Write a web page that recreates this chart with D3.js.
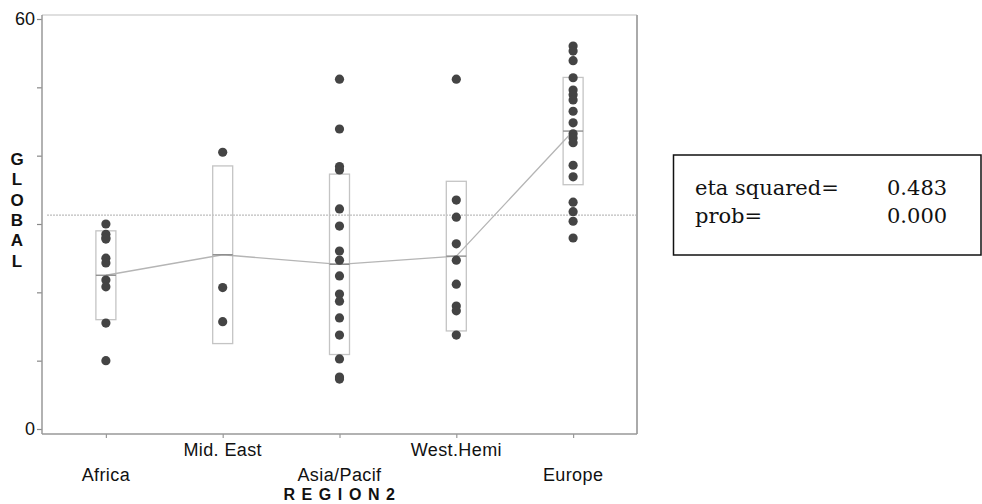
<!DOCTYPE html>
<html>
<head>
<meta charset="utf-8">
<script src="https://cdn.jsdelivr.net/npm/d3@7"></script>
<style>
  html, body { margin: 0; padding: 0; background: #fff; }
  svg { display: block; }
</style>
</head>
<body>
<svg id="chart" width="982" height="504"></svg>
<script>
// ---------------- DATA ----------------
const categories = ["Africa", "Mid. East", "Asia/Pacif", "West.Hemi", "Europe"];
const africa    = [30.0, 28.5, 28.0, 27.8, 25.0, 24.3, 21.8, 20.8, 15.5, 10.0];
const midEast   = [40.5, 20.7, 15.7];
const asiaPacif = [51.2, 43.9, 38.4, 37.9, 32.2, 29.7, 26.05, 24.7, 22.4, 19.75, 18.7, 16.25, 13.75, 10.25, 7.6, 7.3];
const westHemi  = [51.2, 33.5, 31.0, 27.1, 24.7, 21.2, 18.0, 17.3, 13.75];
const europe    = [56.05, 55.3, 53.9, 51.4, 49.6, 48.9, 48.15, 46.5, 44.8, 43.2, 42.6, 41.9, 38.6, 36.9, 33.2, 31.8, 30.4, 27.95];
const groupMeans = [22.5, 25.5, 24.1, 25.3, 43.6];
const groupSD    = [6.5, 13.0, 13.2, 10.95, 7.85];
const grandMean  = 31.3;
const yTicks     = [0, 10, 20, 30, 40, 50, 60];
const yTickLabels = ["0", "", "", "", "", "", "60"];
const statLabels = ["eta squared=", "prob="];
const statValues = ["0.483", "0.000"];
const yTitle = "GLOBAL";
const xTitle = "REGION2";

const groups = [africa, midEast, asiaPacif, westHemi, europe];

// ---------------- LAYOUT ----------------
const svg = d3.select("#chart");
const frame = { left: 42, right: 637, top: 15, bottom: 434 };

const x = d3.scalePoint().domain(categories).range([frame.left, frame.right]).padding(0.547);
const y = d3.scaleLinear().domain([0, 60]).range([429, 19]);

// frame top and right
svg.append("line").attr("x1", frame.left).attr("x2", frame.right).attr("y1", frame.top).attr("y2", frame.top)
  .attr("stroke", "#d4d4d4").attr("stroke-width", 1.5);
svg.append("line").attr("x1", frame.right).attr("x2", frame.right).attr("y1", frame.top).attr("y2", frame.bottom)
  .attr("stroke", "#aaa").attr("stroke-width", 2);

// grand mean dotted line
svg.append("line").attr("x1", frame.left + 5).attr("x2", frame.right - 1)
  .attr("y1", y(grandMean)).attr("y2", y(grandMean))
  .attr("stroke", "#bdbdbd").attr("stroke-width", 1.3).attr("stroke-dasharray", "2,1");

// Y axis
const yAxis = d3.axisLeft(y).tickValues(yTicks).tickSize(5).tickPadding(2)
  .tickFormat((d, i) => yTickLabels[i]);
const gy = svg.append("g").attr("transform", `translate(${frame.left},0)`).call(yAxis);
gy.select(".domain").remove();
gy.selectAll(".tick line").attr("stroke", "#888").attr("stroke-width", 1.2);
gy.selectAll(".tick text").attr("font-family", "Liberation Sans, Arial, sans-serif")
  .attr("font-size", 18).attr("fill", "#111");
svg.append("line").attr("x1", frame.left).attr("x2", frame.left).attr("y1", frame.top).attr("y2", frame.bottom)
  .attr("stroke", "#999").attr("stroke-width", 1.5);

// X axis
const xAxis = d3.axisBottom(x).tickSize(4).tickFormat("");
const gx = svg.append("g").attr("transform", `translate(0,${frame.bottom})`).call(xAxis);
gx.select(".domain").remove();
gx.selectAll(".tick line").attr("stroke", "#999").attr("stroke-width", 1.2);
svg.append("line").attr("x1", frame.left).attr("x2", frame.right).attr("y1", frame.bottom).attr("y2", frame.bottom)
  .attr("stroke", "#999").attr("stroke-width", 1.5);

// staggered category labels
svg.append("g").selectAll("text").data(categories).join("text")
  .attr("x", d => x(d))
  .attr("y", (d, i) => i % 2 === 0 ? 481 : 456)
  .attr("text-anchor", "middle")
  .attr("font-family", "Liberation Sans, Arial, sans-serif")
  .attr("font-size", 18).attr("letter-spacing", 0.4).attr("fill", "#111")
  .text(d => d);

// axis titles
svg.append("text").attr("x", x(categories[2]) + 3).attr("y", 500)
  .attr("text-anchor", "middle")
  .attr("font-family", "Liberation Sans, Arial, sans-serif").attr("font-weight", "bold")
  .attr("font-size", 16).attr("letter-spacing", 6.6).attr("fill", "#111")
  .text(xTitle);

svg.append("g").selectAll("text").data(yTitle.split("")).join("text")
  .attr("x", 17).attr("y", (d, i) => 165 + i * 20.3)
  .attr("text-anchor", "middle")
  .attr("font-family", "Liberation Sans, Arial, sans-serif").attr("font-weight", "bold")
  .attr("font-size", 17).attr("fill", "#111")
  .text(d => d);

// boxes (mean ± SD)
const boxW = 20;
svg.append("g").selectAll("rect").data(categories).join("rect")
  .attr("x", d => x(d) - boxW / 2)
  .attr("y", (d, i) => y(groupMeans[i] + groupSD[i]))
  .attr("width", boxW)
  .attr("height", (d, i) => y(groupMeans[i] - groupSD[i]) - y(groupMeans[i] + groupSD[i]))
  .attr("fill", "none").attr("stroke", "#c4c4c4").attr("stroke-width", 1.3);

// mean connecting line
const meanLine = d3.line().x(d => x(d.c)).y(d => y(d.m));
svg.append("path")
  .datum(categories.map((c, i) => ({ c, m: groupMeans[i] })))
  .attr("d", meanLine).attr("fill", "none")
  .attr("stroke", "#b5b5b5").attr("stroke-width", 1.3);

// mean segments in boxes
svg.append("g").selectAll("line").data(categories).join("line")
  .attr("x1", d => x(d) - boxW / 2).attr("x2", d => x(d) + boxW / 2)
  .attr("y1", (d, i) => y(groupMeans[i])).attr("y2", (d, i) => y(groupMeans[i]))
  .attr("stroke", "#888").attr("stroke-width", 1.3);

// points
groups.forEach((vals, gi) => {
  svg.append("g").selectAll("circle").data(vals).join("circle")
    .attr("cx", x(categories[gi]))
    .attr("cy", d => y(d))
    .attr("r", 4.6)
    .attr("fill", "#444");
});

// stats box
const sb = svg.append("g");
sb.append("rect").attr("x", 673.5).attr("y", 155).attr("width", 307.5).attr("height", 100)
  .attr("fill", "none").attr("stroke", "#111").attr("stroke-width", 1.5);
sb.selectAll("text.lab").data(statLabels).join("text").attr("class", "lab")
  .attr("x", 695).attr("y", (d, i) => 195 + i * 28)
  .attr("font-family", "DejaVu Serif, Liberation Serif, serif").attr("font-size", 21)
  .attr("fill", "#111").text(d => d);
sb.selectAll("text.val").data(statValues).join("text").attr("class", "val")
  .attr("x", 887).attr("y", (d, i) => 195 + i * 28)
  .attr("font-family", "DejaVu Serif, Liberation Serif, serif").attr("font-size", 21)
  .attr("fill", "#111").text(d => d);
</script>
</body>
</html>
